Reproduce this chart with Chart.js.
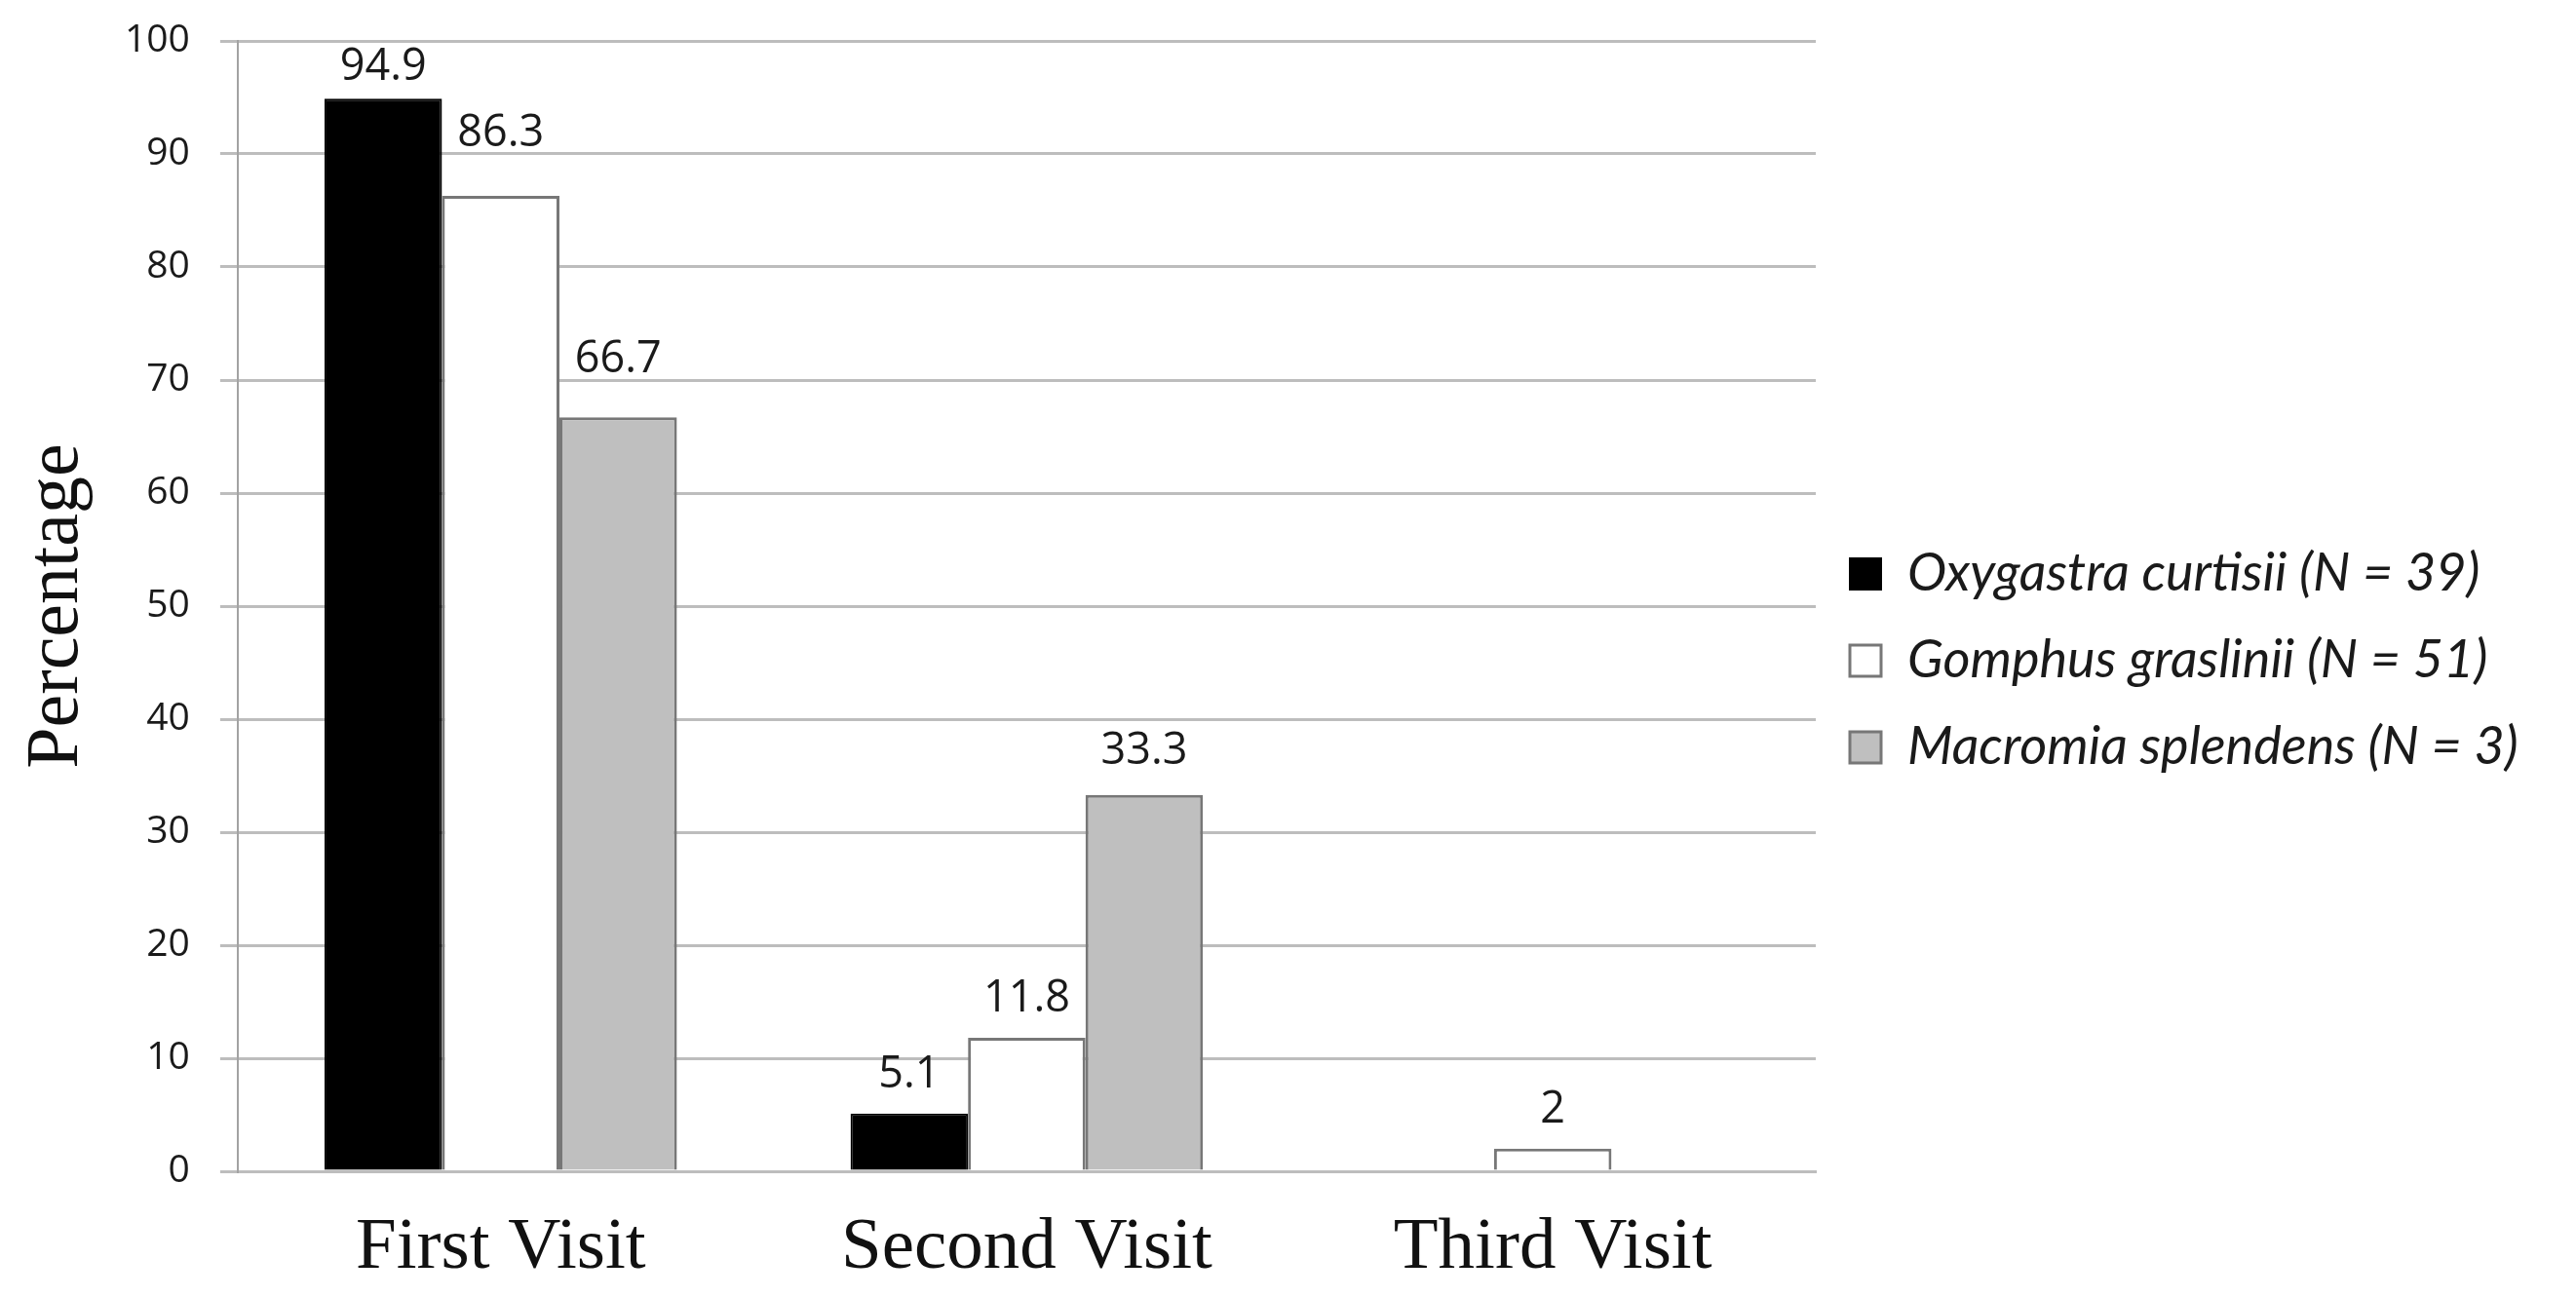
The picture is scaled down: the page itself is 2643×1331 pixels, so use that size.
<!DOCTYPE html>
<html lang="en">
<head>
    <meta charset="UTF-8">
    <title>Visits</title>
    <script src="https://cdn.jsdelivr.net/npm/chart.js"></script>
    <style>
        body {
            margin: 0;
            background: #fff;
            overflow: hidden;
        }
        .wrap {
            width: 2643px;
            height: 1331px;
            position: relative;
        }
    </style>
</head>
<body>
    <div class="wrap">
        <canvas id="visitChart"></canvas>
    </div>

    <script>
        // data
        const visits = ["First Visit", "Second Visit", "Third Visit"];
        const seriesNames = [
            "Oxygastra curtisii (N = 39)",
            "Gomphus graslinii (N = 51)",
            "Macromia splendens (N = 3)"
        ];
        const oxygastra = [94.9, 5.1, 0];
        const gomphus = [86.3, 11.8, 2];
        const macromia = [66.7, 33.3, 0];
        const yTicks = [0, 10, 20, 30, 40, 50, 60, 70, 80, 90, 100];

        // some labels sit higher/lower than the usual gap in the original (px, upward)
        const labelLift = { "0-0": -8, "1-0": 24, "2-0": 19, "2-1": 5 };

        const plotRight = 1863;

        const valueLabels = {
            id: "valueLabels",
            afterDatasetsDraw(chart) {
                const ctx = chart.ctx;
                ctx.save();
                ctx.font = '45px "Open Sans"';
                ctx.fillStyle = "#1a1a1a";
                ctx.textAlign = "center";
                ctx.textBaseline = "alphabetic";
                chart.data.datasets.forEach((ds, i) => {
                    chart.getDatasetMeta(i).data.forEach((bar, j) => {
                        const v = ds.data[j];
                        if (!v) return;
                        const lift = labelLift[i + "-" + j] || 0;
                        ctx.fillText(String(v), bar.x, bar.y - 27 - lift);
                    });
                });
                ctx.restore();
            }
        };

        function build() {
            const ctx = document.getElementById("visitChart").getContext("2d");
            const visitChart = new Chart(ctx, {
                type: "bar",
                data: {
                    labels: visits,
                    datasets: [
                        {
                            label: seriesNames[0],
                            data: oxygastra,
                            backgroundColor: "#000000",
                            borderColor: "#000000",
                            borderWidth: 2
                        },
                        {
                            label: seriesNames[1],
                            data: gomphus,
                            backgroundColor: "#ffffff",
                            borderColor: "#777777",
                            borderWidth: 3
                        },
                        {
                            label: seriesNames[2],
                            data: macromia,
                            backgroundColor: "#bfbfbf",
                            borderColor: "#777777",
                            borderWidth: 3
                        }
                    ]
                },
                options: {
                    responsive: true,
                    maintainAspectRatio: false,
                    animation: false,
                    devicePixelRatio: 1,
                    datasets: {
                        bar: {
                            barPercentage: 1,
                            categoryPercentage: 0.67,
                            borderSkipped: "bottom"
                        }
                    },
                    layout: {
                        // the x axis reserves twice its tick padding, hence the negative bottom
                        padding: { top: 42, left: 21, bottom: -29, right: 0 }
                    },
                    plugins: {
                        tooltip: { enabled: false },
                        legend: {
                            position: "right",
                            align: "start",
                            maxWidth: 1000,
                            // empty title used only as a spacer above the entries
                            title: {
                                display: true,
                                text: "",
                                padding: 0,
                                font: { size: 10, lineHeight: "485px" }
                            },
                            labels: {
                                boxWidth: 32,
                                boxHeight: 32,
                                padding: 35,
                                color: "#1a1a1a",
                                font: {
                                    family: "Lato",
                                    style: "italic",
                                    size: 54
                                }
                            }
                        }
                    },
                    scales: {
                        x: {
                            grid: { display: false, drawTicks: false },
                            border: { display: true, color: "#bdbdbd", width: 3 },
                            ticks: {
                                padding: 34,
                                color: "#111111",
                                font: { family: "Liberation Serif", size: 75 }
                            }
                        },
                        y: {
                            min: 0,
                            max: 100,
                            afterBuildTicks(axis) {
                                axis.ticks = yTicks.map(v => ({ value: v }));
                            },
                            grid: {
                                color: "#bdbdbd",
                                lineWidth: 3,
                                drawTicks: true,
                                tickLength: 18
                            },
                            border: { display: true, color: "#a3a3a3", width: 2 },
                            ticks: {
                                padding: 31,
                                color: "#1a1a1a",
                                font: { family: "Open Sans", size: 39, lineHeight: 0.2 }
                            },
                            title: {
                                display: true,
                                text: "Percentage",
                                color: "#111111",
                                padding: { top: 0, bottom: 0 },
                                font: { family: "Liberation Serif", size: 76, lineHeight: 1.0 }
                            }
                        }
                    }
                },
                plugins: [valueLabels]
            });

            // push the legend in so the plot ends where the original's does
            const over = visitChart.chartArea.right - plotRight;
            visitChart.options.layout.padding.right = over;
            visitChart.update();
        }

        const fontsWanted = [
            'italic 54px "Lato"',
            '45px "Open Sans"',
            '39px "Open Sans"',
            '75px "Liberation Serif"'
        ];
        Promise.all(fontsWanted.map(f => document.fonts.load(f))).then(build, build);
    </script>
</body>
</html>
